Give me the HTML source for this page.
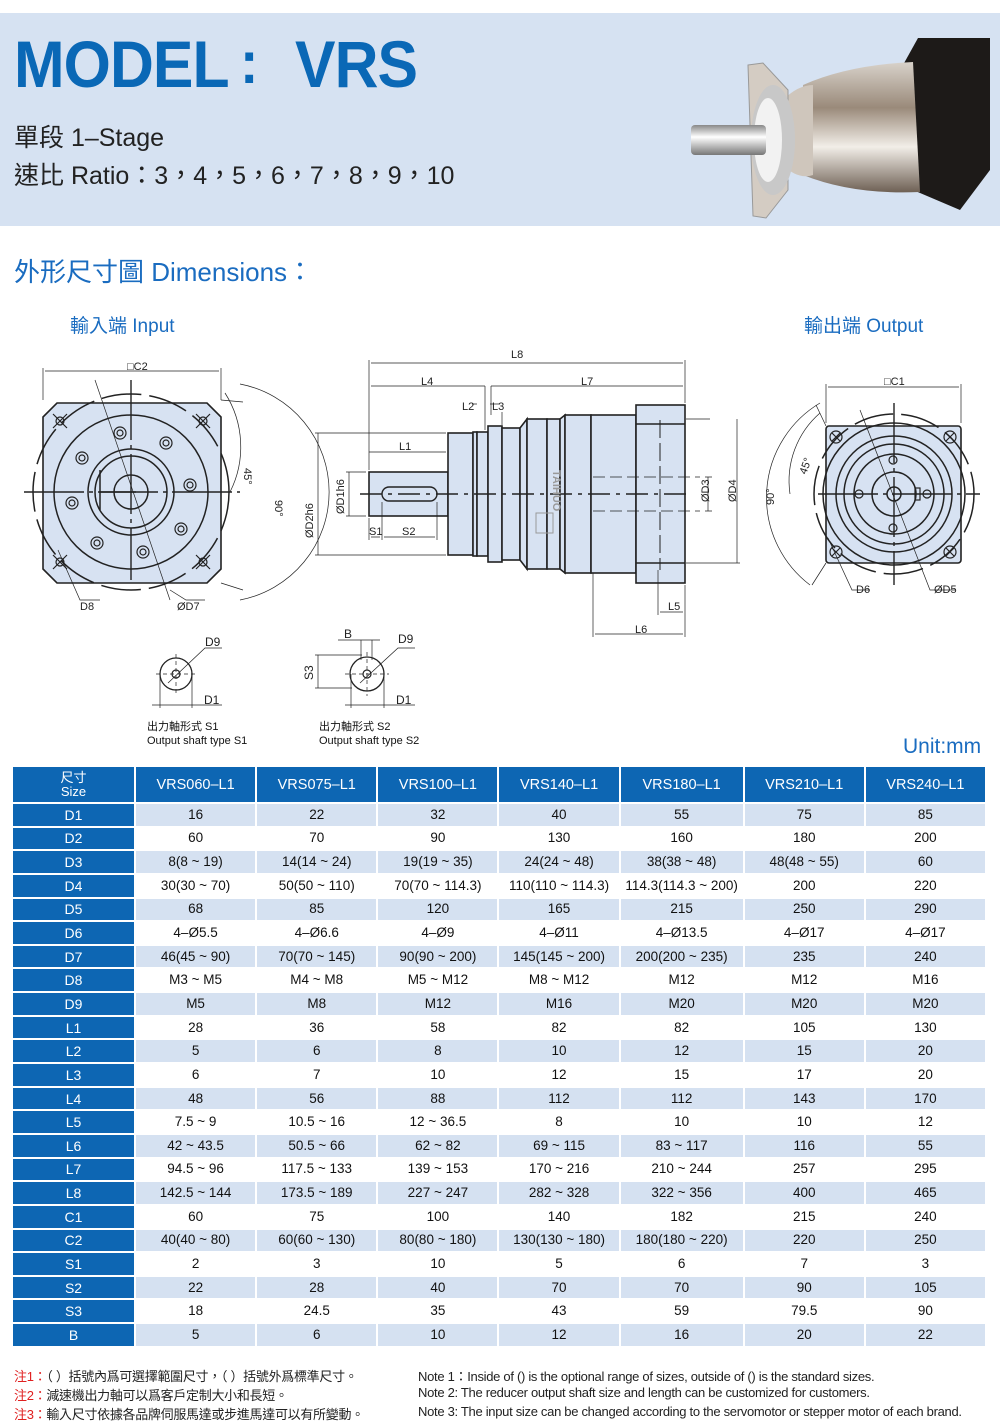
<!DOCTYPE html>
<html><head><meta charset="utf-8"><style>
*{margin:0;padding:0;box-sizing:border-box}
body{width:1000px;height:1425px;background:#fff;position:relative;font-family:"Liberation Sans","Noto Sans CJK TC",sans-serif;overflow:hidden}
.abs{position:absolute;white-space:nowrap}
.band{position:absolute;left:0;top:13px;width:1000px;height:213px;background:#d6e2f2}
.t1{top:26px;font-size:66px;font-weight:bold;color:#0a68b6;letter-spacing:-1px;transform:scaleX(0.92);transform-origin:left}
.t2{left:14px;top:118px;font-size:25px;color:#222}
.t3{left:14px;top:156px;font-size:25px;color:#222}
.blue{color:#1a6cc0}
table{position:absolute;left:11px;top:765px;border-collapse:separate;border-spacing:2px;table-layout:fixed;width:976px}
td{text-align:center;font-size:13.5px;height:21.65px;padding:0;color:#111;line-height:14px}
td.h{background:#0d66b3;color:#fff;font-size:14px}
tr.hd td{height:35px;background:#0d66b3;color:#fff;font-size:14.5px}
tr:nth-child(even) td:not(.h){background:#d5e1f1}
.note{font-size:13px;color:#222;letter-spacing:-0.3px}
.red{color:#e02020}
</style></head><body>
<div class="band"></div>
<div class="abs t1" style="left:14px">MODEL</div>
<div class="abs t1" style="left:240px;top:28px;font-size:60px">:</div>
<div class="abs t1" style="left:295px">VRS</div>
<div class="abs t2">單段 1–Stage</div>
<div class="abs t3">速比 Ratio：3，4，5，6，7，8，9，10</div>
<svg class="abs" style="left:688px;top:30px" width="310" height="190" viewBox="0 0 310 190">
<defs><linearGradient id="m" x1="0" y1="0" x2="0" y2="1"><stop offset="0" stop-color="#d8d2ca"/><stop offset=".35" stop-color="#9a8a7a"/><stop offset=".65" stop-color="#f2eee8"/><stop offset="1" stop-color="#6e6054"/></linearGradient>
<linearGradient id="s" x1="0" y1="0" x2="0" y2="1"><stop offset="0" stop-color="#888"/><stop offset=".4" stop-color="#fff"/><stop offset="1" stop-color="#777"/></linearGradient></defs>
<polygon points="230,8 302,8 302,140 272,180 225,160 215,35" fill="#1d1a18"/>
<path d="M115,55 Q160,35 225,32 L232,162 Q165,165 115,145Z" fill="url(#m)"/>
<path d="M95,70 Q110,55 125,55 L125,145 Q110,150 95,135Z" fill="#cfc6bc"/>
<polygon points="60,35 75,33 100,60 100,160 78,188 65,186" fill="#d4ccc3" stroke="#999" stroke-width="1"/>
<ellipse cx="85" cy="110" rx="22" ry="55" fill="#c8c8c8"/>
<ellipse cx="80" cy="110" rx="14" ry="42" fill="#f2f2f2"/>
<rect x="3" y="95" width="75" height="30" rx="4" fill="url(#s)"/>
</svg>
<div class="abs blue" style="left:14px;top:252px;font-size:26px">外形尺寸圖 Dimensions：</div>
<div class="abs blue" style="left:70px;top:311px;font-size:19px">輸入端 Input</div>
<div class="abs blue" style="left:804px;top:311px;font-size:19px">輸出端 Output</div>
<div class="abs blue" style="left:903px;top:735px;font-size:21px;color:#1a6cc0">Unit:mm</div>

<svg class="abs" style="left:0;top:340px" width="1000" height="420" viewBox="0 340 1000 420" font-family="Liberation Sans,sans-serif" font-size="11" fill="none" stroke="#222">
<polygon points="57,403 207,403 221,417 221,569 207,583 57,583 43,569 43,417" fill="#d7e2f2" stroke-width="1.6"/>
<circle cx="131" cy="492" r="98" stroke-dasharray="40 8" stroke-width="1.5"/>
<circle cx="131" cy="492" r="77" stroke-width="1.5"/>
<circle cx="131" cy="492" r="43" stroke-width="1.5"/>
<circle cx="131" cy="492" r="36" stroke-width="1.5"/>
<circle cx="131" cy="492" r="17" stroke-width="1.5"/>
<g stroke-width="1.2">
<circle cx="120" cy="433" r="6"/><circle cx="120" cy="433" r="3"/>
<circle cx="166" cy="443" r="6"/><circle cx="166" cy="443" r="3"/>
<circle cx="82" cy="458" r="6"/><circle cx="82" cy="458" r="3"/>
<circle cx="190" cy="485" r="6"/><circle cx="190" cy="485" r="3"/>
<circle cx="72" cy="503" r="6"/><circle cx="72" cy="503" r="3"/>
<circle cx="181" cy="529" r="6"/><circle cx="181" cy="529" r="3"/>
<circle cx="97" cy="543" r="6"/><circle cx="97" cy="543" r="3"/>
<circle cx="143" cy="552" r="6"/><circle cx="143" cy="552" r="3"/>
<circle cx="60" cy="421" r="4"/><circle cx="203" cy="421" r="4"/><circle cx="60" cy="562" r="4"/><circle cx="203" cy="562" r="4"/>
<path d="M53,414l14,14M67,414l-14,14M196,414l14,14M210,414l-14,14M53,555l14,14M67,555l-14,14M196,555l14,14M210,555l-14,14"/>
</g>
<path d="M24,492H240M131,380V580" stroke-width="1.4" stroke-dasharray="60 5 4 5"/>
<path d="M100,470V510M100,492H136" stroke-width="1.5"/>
<g stroke-width="0.7"><path d="M43,400V368M221,400V368M45,371H219"/><path d="M95,380L170,600M58,550L80,600H100M170,590L186,600H205"/>
<path d="M221,400L243,402M221,583L243,590"/><path d="M240,384A110,110 0 0 1 240,600"/><path d="M225,393A100,100 0 0 1 230,492"/></g>
<g fill="#222" stroke="none"><text x="127" y="370">□C2</text><text x="80" y="610">D8</text><text x="177" y="610">ØD7</text>
<text transform="translate(244,468) rotate(90)">45°</text><text transform="translate(275,500) rotate(90)">90°</text></g>

<g fill="#d7e2f2" stroke-width="1.6">
<rect x="369" y="472" width="79" height="44"/>
<rect x="448" y="433" width="25" height="122"/>
<rect x="473" y="432" width="4" height="124"/>
<rect x="477" y="432" width="11" height="124"/>
<rect x="488" y="426" width="14" height="136"/>
<rect x="502" y="428" width="18" height="132"/>
<polygon points="520,428 527,419 527,569 520,560"/>
<rect x="527" y="419" width="20" height="150"/>
<rect x="547" y="419" width="13" height="150"/>
<polygon points="560,419 565,415 565,573 560,569"/>
<rect x="565" y="415" width="26" height="158"/>
<rect x="591" y="415" width="45" height="158"/>
<rect x="636" y="405" width="49" height="178"/>
</g>
<path d="M636,424H685M636,563H685" stroke-width="1.5"/>
<rect x="382" y="487" width="55" height="14" rx="7" stroke-width="1.4"/>
<path d="M360,494H690" stroke-width="1.5" stroke-dasharray="22 6 4 6"/>
<path d="M660,420V570" stroke-width="1" stroke-dasharray="18 5"/>
<path d="M593,477H700M593,511H700" stroke-width="0.8" stroke-dasharray="12 5"/>
<text x="553" y="470" fill="#999" stroke="none" font-size="11" font-weight="bold" transform="rotate(90 553 470)">TAIHUO</text>
<rect x="536" y="513" width="17" height="20" fill="none" stroke="#999"/>
<g stroke-width="0.7">
<path d="M369,470V360M685,403V360M371,363H683M371,386H485M491,386H683M491,386V415M485,386V430M472,404H477M490,404H500M502,412V425"/>
<path d="M369,452H446M315,433H446M315,555H446M318,433V555M346,472H366M346,516H366M349,472V516"/>
<path d="M369,518V540M382,502V540M437,502V540M371,537H380M384,537H435"/>
<path d="M686,419H710M686,563H740M705,477H712M705,511H712M708,477V511M737,419V563"/>
<path d="M658,570V615M685,585V637M660,612H683M593,573V637M595,634H683"/>
</g>
<g fill="#222" stroke="none"><text x="511" y="358">L8</text><text x="421" y="385">L4</text><text x="581" y="385">L7</text>
<text x="462" y="410">L2</text><text x="492" y="410">L3</text><text x="399" y="450">L1</text>
<text x="369" y="535">S1</text><text x="402" y="535">S2</text><text x="668" y="610">L5</text><text x="635" y="633">L6</text>
<text transform="translate(313,538) rotate(-90)">ØD2h6</text><text transform="translate(344,514) rotate(-90)">ØD1h6</text>
<text transform="translate(709,502) rotate(-90)">ØD3</text><text transform="translate(736,502) rotate(-90)">ØD4</text></g>

<rect x="826" y="426" width="135" height="137" rx="3" fill="#d7e2f2" stroke-width="1.6"/>
<circle cx="894" cy="494" r="80" stroke-dasharray="40 8" stroke-width="1.5"/>
<circle cx="894" cy="494" r="71" stroke-width="1.5"/>
<circle cx="894" cy="494" r="58" stroke-width="1.5"/>
<circle cx="894" cy="494" r="50" stroke-width="1.5"/>
<circle cx="894" cy="494" r="40" stroke-width="1.5"/>
<circle cx="894" cy="494" r="22" stroke-width="1.5"/>
<circle cx="894" cy="494" r="7" stroke-width="1.5"/>
<g stroke-width="1.2"><circle cx="893" cy="460" r="4"/><circle cx="893" cy="528" r="4"/><circle cx="859" cy="494" r="4"/><circle cx="927" cy="494" r="4"/>
<circle cx="836" cy="437" r="6"/><circle cx="950" cy="437" r="6"/><circle cx="836" cy="552" r="6"/><circle cx="950" cy="552" r="6"/>
<path d="M832,433l8,8M840,433l-8,8M946,433l8,8M954,433l-8,8M832,548l8,8M840,548l-8,8M946,548l8,8M954,548l-8,8"/>
<rect x="915" y="488" width="5" height="12"/></g>
<path d="M818,494H980M894,403V585" stroke-width="1.4" stroke-dasharray="60 5 4 5"/>
<g stroke-width="0.7"><path d="M826,423V384M961,423V384M828,387H959"/><path d="M860,410L930,590H955M828,538L852,590H870"/>
<path d="M826,426L816,405M826,563L812,585"/><path d="M820,403A110,110 0 0 0 810,585"/><path d="M820,413A90,90 0 0 0 790,494"/></g>
<g fill="#222" stroke="none"><text x="884" y="385">□C1</text><text x="856" y="593">D6</text><text x="934" y="593">ØD5</text>
<text transform="translate(806,475) rotate(-70)">45°</text><text transform="translate(774,505) rotate(-90)">90°</text></g>

<circle cx="176" cy="674" r="16" stroke-width="1.3"/>
<circle cx="176" cy="674" r="4" stroke-width="1.2"/>
<path d="M156,674H196M176,654V694" stroke-width="0.7" stroke-dasharray="4 3"/>
<g stroke-width="0.7"><path d="M168,683L205,648H222M160,674V708M192,674V708M152,705H222"/></g>
<circle cx="367" cy="674" r="17" stroke-width="1.3"/>
<circle cx="367" cy="674" r="4" stroke-width="1.2"/>
<path d="M345,674H389M367,652V696" stroke-width="0.7" stroke-dasharray="4 3"/>
<g stroke-width="0.7"><path d="M360,683L398,648H415M351,674V708M384,674V708M345,705H415M315,655H362M315,688H352M318,655V688M361,640V660M372,640V660M338,640H380"/></g>
<g fill="#222" stroke="none" font-size="12"><text x="205" y="646">D9</text><text x="204" y="704">D1</text>
<text x="398" y="643">D9</text><text x="396" y="704">D1</text><text x="344" y="638">B</text><text transform="translate(313,680) rotate(-90)">S3</text></g>
<g fill="#111" stroke="none" font-size="11"><text x="147" y="730">出力軸形式 S1</text><text x="147" y="744">Output shaft type S1</text>
<text x="319" y="730">出力軸形式 S2</text><text x="319" y="744">Output shaft type S2</text></g>
</svg>

<table>
<colgroup><col style="width:121px"><col><col><col><col><col style="width:122px"><col><col></colgroup>
<tr class="hd"><td style="font-size:13px;line-height:14px">尺寸<br>Size</td><td>VRS060–L1</td><td>VRS075–L1</td><td>VRS100–L1</td><td>VRS140–L1</td><td>VRS180–L1</td><td>VRS210–L1</td><td>VRS240–L1</td></tr>
<tr><td class="h">D1</td><td>16</td><td>22</td><td>32</td><td>40</td><td>55</td><td>75</td><td>85</td></tr>
<tr><td class="h">D2</td><td>60</td><td>70</td><td>90</td><td>130</td><td>160</td><td>180</td><td>200</td></tr>
<tr><td class="h">D3</td><td>8(8 ~ 19)</td><td>14(14 ~ 24)</td><td>19(19 ~ 35)</td><td>24(24 ~ 48)</td><td>38(38 ~ 48)</td><td>48(48 ~ 55)</td><td>60</td></tr>
<tr><td class="h">D4</td><td>30(30 ~ 70)</td><td>50(50 ~ 110)</td><td>70(70 ~ 114.3)</td><td>110(110 ~ 114.3)</td><td>114.3(114.3 ~ 200)</td><td>200</td><td>220</td></tr>
<tr><td class="h">D5</td><td>68</td><td>85</td><td>120</td><td>165</td><td>215</td><td>250</td><td>290</td></tr>
<tr><td class="h">D6</td><td>4–Ø5.5</td><td>4–Ø6.6</td><td>4–Ø9</td><td>4–Ø11</td><td>4–Ø13.5</td><td>4–Ø17</td><td>4–Ø17</td></tr>
<tr><td class="h">D7</td><td>46(45 ~ 90)</td><td>70(70 ~ 145)</td><td>90(90 ~ 200)</td><td>145(145 ~ 200)</td><td>200(200 ~ 235)</td><td>235</td><td>240</td></tr>
<tr><td class="h">D8</td><td>M3 ~ M5</td><td>M4 ~ M8</td><td>M5 ~ M12</td><td>M8 ~ M12</td><td>M12</td><td>M12</td><td>M16</td></tr>
<tr><td class="h">D9</td><td>M5</td><td>M8</td><td>M12</td><td>M16</td><td>M20</td><td>M20</td><td>M20</td></tr>
<tr><td class="h">L1</td><td>28</td><td>36</td><td>58</td><td>82</td><td>82</td><td>105</td><td>130</td></tr>
<tr><td class="h">L2</td><td>5</td><td>6</td><td>8</td><td>10</td><td>12</td><td>15</td><td>20</td></tr>
<tr><td class="h">L3</td><td>6</td><td>7</td><td>10</td><td>12</td><td>15</td><td>17</td><td>20</td></tr>
<tr><td class="h">L4</td><td>48</td><td>56</td><td>88</td><td>112</td><td>112</td><td>143</td><td>170</td></tr>
<tr><td class="h">L5</td><td>7.5 ~ 9</td><td>10.5 ~ 16</td><td>12 ~ 36.5</td><td>8</td><td>10</td><td>10</td><td>12</td></tr>
<tr><td class="h">L6</td><td>42 ~ 43.5</td><td>50.5 ~ 66</td><td>62 ~ 82</td><td>69 ~ 115</td><td>83 ~ 117</td><td>116</td><td>55</td></tr>
<tr><td class="h">L7</td><td>94.5 ~ 96</td><td>117.5 ~ 133</td><td>139 ~ 153</td><td>170 ~ 216</td><td>210 ~ 244</td><td>257</td><td>295</td></tr>
<tr><td class="h">L8</td><td>142.5 ~ 144</td><td>173.5 ~ 189</td><td>227 ~ 247</td><td>282 ~ 328</td><td>322 ~ 356</td><td>400</td><td>465</td></tr>
<tr><td class="h">C1</td><td>60</td><td>75</td><td>100</td><td>140</td><td>182</td><td>215</td><td>240</td></tr>
<tr><td class="h">C2</td><td>40(40 ~ 80)</td><td>60(60 ~ 130)</td><td>80(80 ~ 180)</td><td>130(130 ~ 180)</td><td>180(180 ~ 220)</td><td>220</td><td>250</td></tr>
<tr><td class="h">S1</td><td>2</td><td>3</td><td>10</td><td>5</td><td>6</td><td>7</td><td>3</td></tr>
<tr><td class="h">S2</td><td>22</td><td>28</td><td>40</td><td>70</td><td>70</td><td>90</td><td>105</td></tr>
<tr><td class="h">S3</td><td>18</td><td>24.5</td><td>35</td><td>43</td><td>59</td><td>79.5</td><td>90</td></tr>
<tr><td class="h">B</td><td>5</td><td>6</td><td>10</td><td>12</td><td>16</td><td>20</td><td>22</td></tr>
</table>

<div class="abs note" style="left:14px;top:1366px"><span class="red">注1：</span>（ ）括號內爲可選擇範圍尺寸，（ ）括號外爲標準尺寸。</div>
<div class="abs note" style="left:14px;top:1385px"><span class="red">注2：</span>減速機出力軸可以爲客戶定制大小和長短。</div>
<div class="abs note" style="left:14px;top:1404px"><span class="red">注3：</span>輸入尺寸依據各品牌伺服馬達或步進馬達可以有所變動。</div>
<div class="abs note" style="left:418px;top:1366px">Note 1：Inside of () is the optional range of sizes, outside of () is the standard sizes.</div>
<div class="abs note" style="left:418px;top:1385px">Note 2: The reducer output shaft size and length can be customized for customers.</div>
<div class="abs note" style="left:418px;top:1404px">Note 3: The input size can be changed according to the servomotor or stepper motor of each brand.</div>
</body></html>
